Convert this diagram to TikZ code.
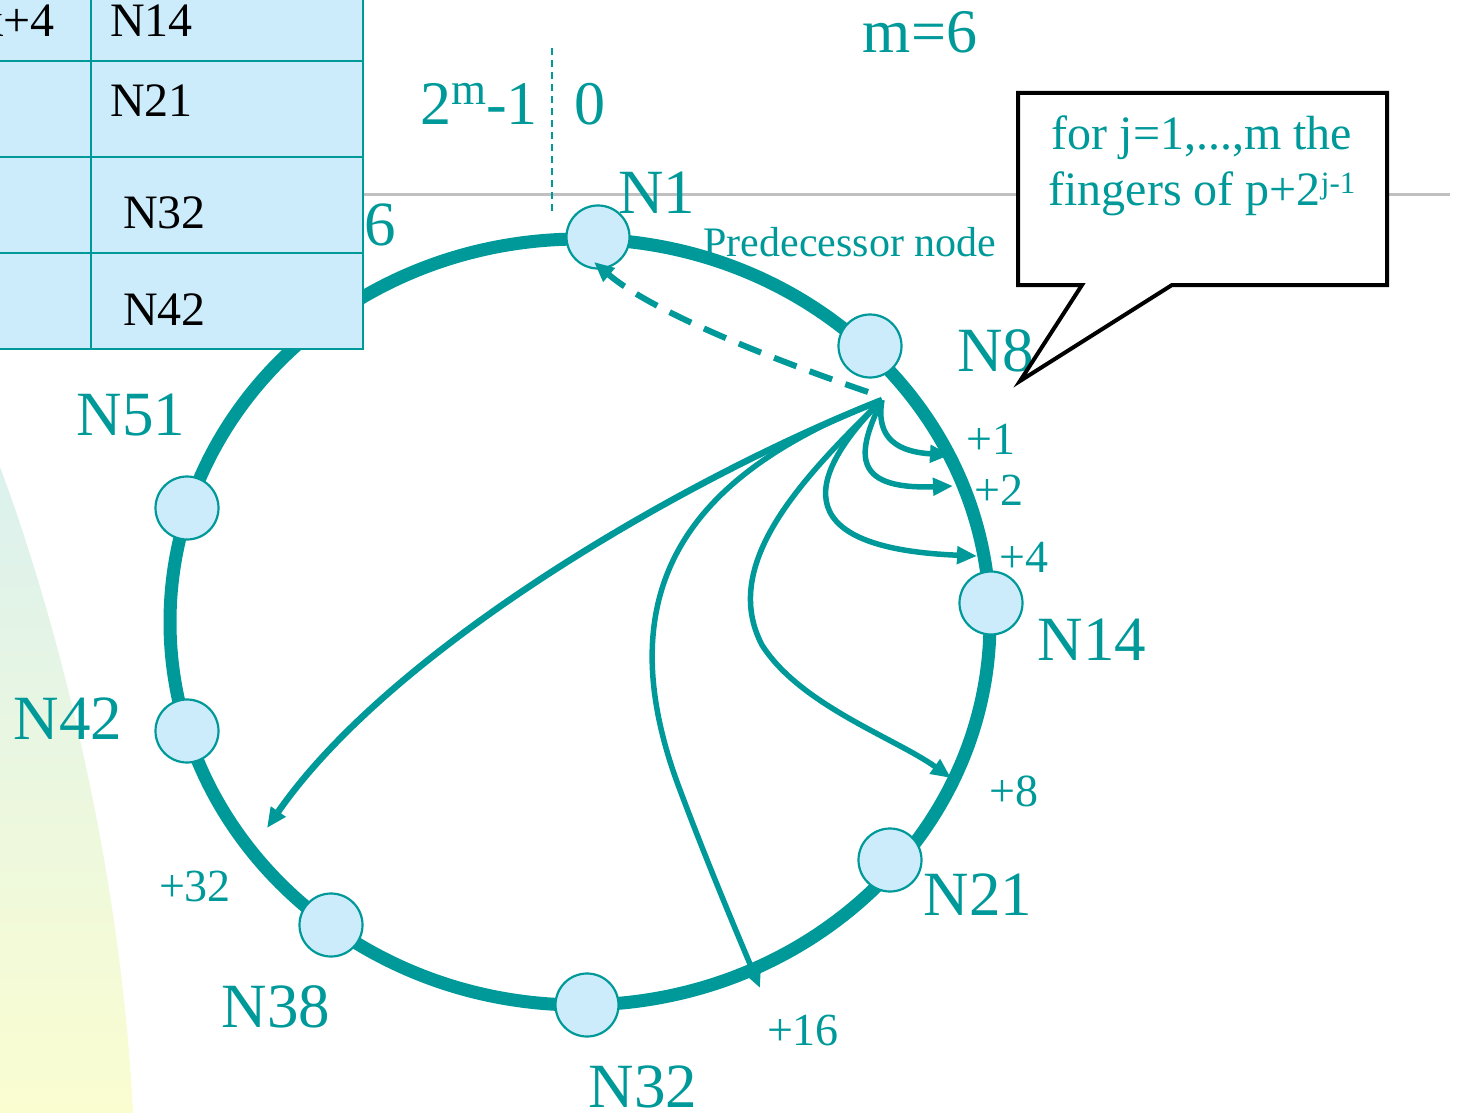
\documentclass[tikz,border=0pt]{standalone}
\usepackage{fontspec}
\setmainfont{Liberation Serif}
\usetikzlibrary{arrows.meta}
\definecolor{chordteal}{RGB}{0,153,153}
\definecolor{peerfill}{RGB}{204,236,252}
\definecolor{railgray}{RGB}{192,192,192}
\definecolor{washtop}{RGB}{220,241,238}
\definecolor{washbot}{RGB}{250,253,208}
\newcommand\fsz[1]{\fontsize{#1}{#1}\selectfont}
\newcommand\raised[3]{\raisebox{#1pt}{\fsz{#2}#3}}
\begin{document}
\begin{tikzpicture}[x=1pt, y=-1pt,
  peer/.style={circle, draw=chordteal, line width=2.2pt, fill=peerfill, minimum size=63pt, inner sep=0pt},
  idlabel/.style={text=chordteal, inner sep=0pt, font=\fsz{63}},
  hoplabel/.style={text=chordteal, inner sep=0pt, font=\fsz{46}},
  finger/.style={draw=chordteal, line width=5.5pt, -{Triangle[length=20pt,width=17pt]}},
  cell/.style={inner sep=0pt, font=\fsz{48}}]
  \useasboundingbox (0,0) rectangle (1460,1113);
  \clip (0,0) rectangle (1460,1113);
  \shade[top color=washtop, bottom color=washbot] (0,467) .. controls (50,600) and (120,850) .. (133,1113) -- (0,1113) -- cycle;
  \draw[railgray, line width=3pt] (363,195) -- (1450,195);
  \draw[chordteal, line width=2.2pt, dash pattern=on 7pt off 5pt] (552,48) -- (552,211);
  \node[text=chordteal, inner sep=0pt, font=\fsz{62}, anchor=base east] (top) at (538,125) {2\raised{20}{45}{m}-1};
  \node[text=chordteal, inner sep=0pt, font=\fsz{62}, anchor=base west] (zero) at (574,125) {0};
  \node[text=chordteal, inner sep=0pt, font=\fsz{62}, anchor=base] (msize) at (920,53) {m=6};

  \draw[chordteal, line width=13pt] (580,622) ellipse [x radius=410, y radius=383];
  \node[peer] (n1) at (598,237) {};
  \node[peer] (n8) at (870,346) {};
  \node[peer] (n14) at (991,603) {};
  \node[peer] (n21) at (890,860) {};
  \node[peer] (n32) at (587,1005) {};
  \node[peer] (n38) at (331,925) {};
  \node[peer] (n42) at (187,731) {};
  \node[peer] (n51) at (187,508) {};

  \node[idlabel] (l1) at (657,193) {N1};
  \node[idlabel] (l8) at (996,351) {N8};
  \node[idlabel] (l14) at (1092,640) {N14};
  \node[idlabel] (l21) at (978,895) {N21};
  \node[idlabel] (l32) at (643,1087) {N32};
  \node[idlabel] (l38) at (276,1007) {N38};
  \node[idlabel] (l42) at (68,719) {N42};
  \node[idlabel] (l51) at (131,415) {N51};
  \node[idlabel, anchor=base east] (l56) at (396,245) {N56};
  \node[text=chordteal, inner sep=0pt, font=\fsz{42}] (pred) at (850,242) {Predecessor node};

  \coordinate (p) at (882,400);
  \coordinate (p0) at (868,392);
  \coordinate (predtip) at (594,262);
  \coordinate (f1) at (950,455);
  \coordinate (f2) at (953,486);
  \coordinate (f4) at (977,556);
  \coordinate (f8) at (951,778);
  \coordinate (f16) at (760,988);
  \coordinate (f32) at (267,828);
  \draw[chordteal, line width=6pt, dash pattern=on 24pt off 14pt, -{Triangle[length=20pt,width=17pt]}] (p0) .. controls (760,355) and (650,310) .. (predtip);
  \draw[finger] (p) .. controls (875,440) and (900,452) .. (f1);
  \draw[finger] (p) .. controls (858,450) and (848,490) .. (f2);
  \draw[finger] (p) .. controls (812,470) and (778,548) .. (f4);
  \draw[finger] (p) .. controls (800,480) and (720,565) .. (762,645) .. controls (800,705) and (895,738) .. (f8);
  \draw[finger] (p) .. controls (700,470) and (600,580) .. (680,790) .. controls (710,870) and (740,940) .. (f16);
  \draw[finger, line width=6.5pt] (p) .. controls (680,480) and (390,650) .. (f32);
  \node[hoplabel] (h1) at (991,439) {+1};
  \node[hoplabel] (h2) at (999,490) {+2};
  \node[hoplabel] (h4) at (1024,557) {+4};
  \node[hoplabel] (h8) at (1014,791) {+8};
  \node[hoplabel] (h16) at (803,1030) {+16};
  \node[hoplabel] (h32) at (195,886) {+32};

  \fill[peerfill] (-10,-10) rectangle (363,349);
  \draw[chordteal, line width=2.5pt] (363,-10) -- (363,349) -- (-10,349);
  \draw[chordteal, line width=2.5pt] (-10,61) -- (363,61) (-10,157) -- (363,157) (-10,253) -- (363,253) (91,-10) -- (91,349);
  \node[cell, anchor=base east] (k4) at (55,37) {k+4};
  \node[cell, anchor=base west] (t14) at (110,37) {N14};
  \node[cell, anchor=base west] (t21) at (110,117) {N21};
  \node[cell, anchor=base west] (t32) at (123,229) {N32};
  \node[cell, anchor=base west] (t42) at (123,325) {N42};

  \draw[line width=4pt, fill=white] (1018,93) -- (1387,93) -- (1387,285) -- (1172,285) -- (1020,381) -- (1082,285) -- (1018,285) -- cycle;
  \node[text=chordteal, inner sep=0pt, font=\fsz{48}, anchor=base] (callA) at (1202,150) {for j=1,...,m the};
  \node[text=chordteal, inner sep=0pt, font=\fsz{48}, anchor=base] (callB) at (1202,205) {fingers of p+2\raised{12}{31}{j-1}};
\end{tikzpicture}
\end{document}
